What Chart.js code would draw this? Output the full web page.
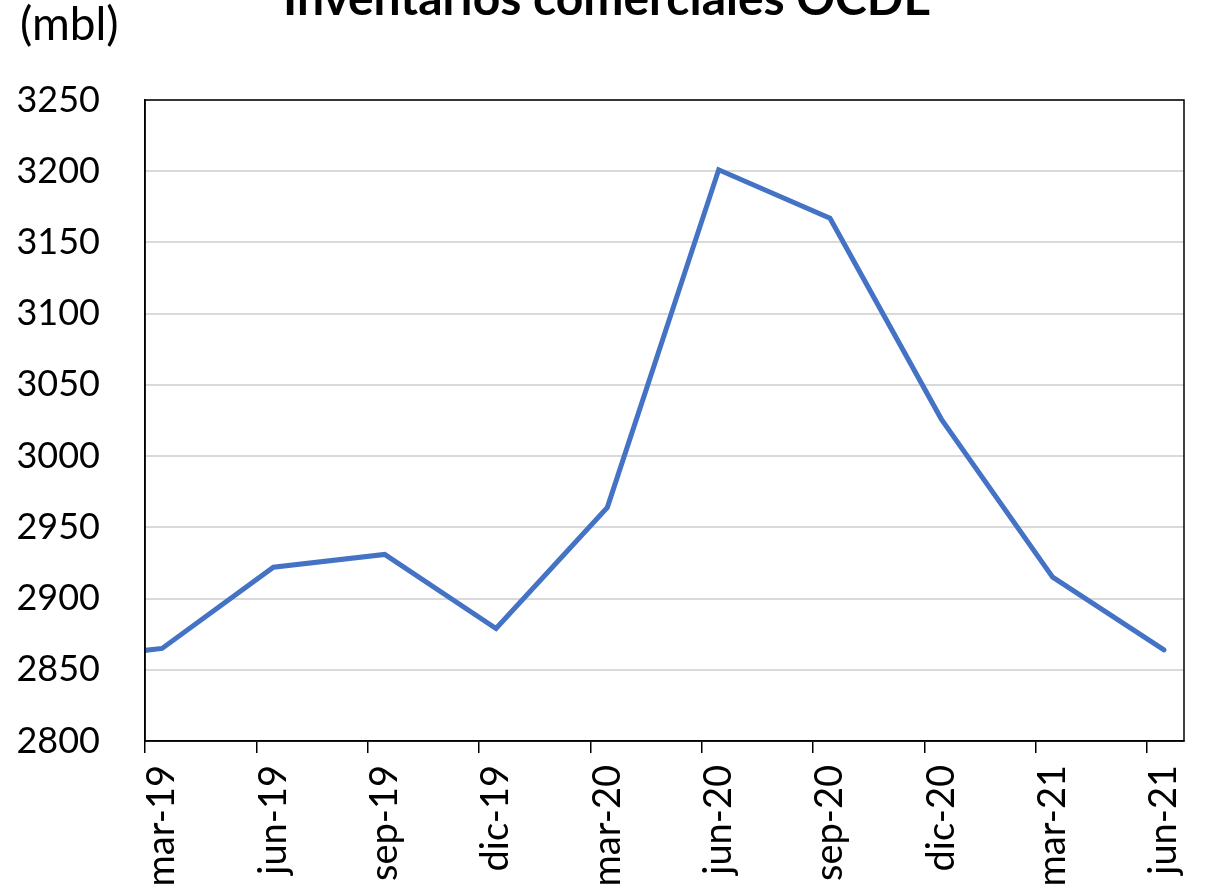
<!DOCTYPE html>
<html>
<head>
<meta charset="utf-8">
<script src="https://cdn.jsdelivr.net/npm/chart.js@4/dist/chart.umd.min.js"></script>
<style>
html,body{margin:0;padding:0;background:#fff;}
#wrap{width:1206px;height:896px;position:relative;}
</style>
</head>
<body>
<div id="wrap"><canvas id="c" width="1206" height="896"></canvas></div>
<script>
const titleText = "Inventarios comerciales OCDE";
const unitText = "(mbl)";
const tickLabels = ["mar-19","jun-19","sep-19","dic-19","mar-20","jun-20","sep-20","dic-20","mar-21","jun-21"];
// quarterly values; first value is the preceding quarter (dic-18), clipped at the left edge
const prevValue = 2856;
const values = [2865, 2922, 2931, 2879, 2964, 3201, 3167, 3026, 2915, 2864];
const yMin = 2800, yMax = 3250, yStep = 50;

const FONT = "Lato";
const pts = [{x: -3 + 0.46, y: prevValue}].concat(values.map((v, i) => ({x: i * 3 + 0.46, y: v})));

const decor = {
  id: 'decor',
  afterDraw(chart) {
    const ctx = chart.ctx, a = chart.chartArea;
    ctx.save();
    ctx.strokeStyle = '#000';
    ctx.lineWidth = 1.5;
    ctx.strokeRect(a.left, a.top, a.right - a.left, a.bottom - a.top);
    ctx.fillStyle = '#000';
    ctx.textBaseline = 'alphabetic';
    ctx.font = 'bold 48px ' + FONT;
    ctx.textAlign = 'center';
    ctx.fillText(titleText, 607, 15);
    ctx.font = '46px ' + FONT;
    ctx.textAlign = 'left';
    ctx.fillText(unitText, 20, 40);
    ctx.restore();
  }
};

new Chart(document.getElementById('c'), {
  type: 'line',
  data: {
    datasets: [{
      data: pts,
      borderColor: '#4472C4',
      borderWidth: 5,
      pointRadius: 0,
      tension: 0,
      borderJoinStyle: 'miter',
      borderCapStyle: 'round',
      clip: 0
    }]
  },
  options: {
    responsive: false,
    animation: false,
    layout: {padding: {left: 0, right: 22, top: 100, bottom: 0}},
    plugins: {legend: {display: false}, tooltip: {enabled: false}, title: {display: false}},
    scales: {
      x: {
        type: 'linear',
        min: 0, max: 28,
        afterBuildTicks(axis) { axis.ticks = tickLabels.map((_, i) => ({value: i * 3})); },
        afterFit(axis) { axis.height = 155; },
        grid: {drawOnChartArea: false, drawTicks: true, tickLength: 12, color: '#000', lineWidth: 1.5},
        border: {display: true, color: '#000', width: 1.5},
        ticks: {
          autoSkip: false, minRotation: 90, maxRotation: 90,
          labelOffset: 17, padding: 12,
          color: '#000', font: {family: FONT, size: 38},
          callback(v) { return tickLabels[Math.round(v / 3)]; }
        }
      },
      y: {
        min: yMin, max: yMax,
        afterFit(axis) { axis.width = 145; },
        grid: {color: '#d9d9d9', lineWidth: 2, drawTicks: false},
        border: {display: true, color: '#000', width: 1.5},
        ticks: {stepSize: yStep, padding: 45, color: '#000', font: {family: FONT, size: 36},
          callback(v) { return String(v); }}
      }
    }
  },
  plugins: [decor]
});
</script>
</body>
</html>
